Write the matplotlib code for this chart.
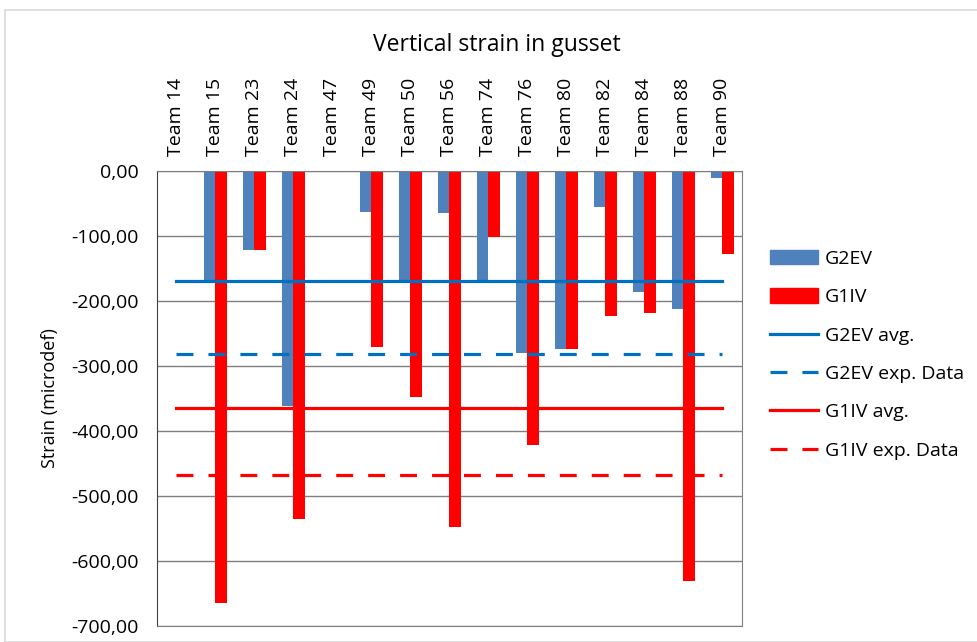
import matplotlib.pyplot as plt
import numpy as np
from matplotlib.lines import Line2D
from matplotlib.patches import Patch, Rectangle
from matplotlib.ticker import FuncFormatter

plt.rcParams['font.family'] = ['Open Sans', 'DejaVu Sans']

teams = ["Team 14", "Team 15", "Team 23", "Team 24", "Team 47", "Team 49", "Team 50",
         "Team 56", "Team 74", "Team 76", "Team 80", "Team 82", "Team 84", "Team 88", "Team 90"]
g2ev = [0, -168, -121, -361, 0, -63, -168, -64, -168, -280, -274, -55, -186, -213, -10]
g1iv = [0, -664, -121, -536, 0, -270, -347, -547, -102, -422, -274, -223, -219, -630, -128]
g2ev_avg = -169
g2ev_exp = -281
g1iv_avg = -364
g1iv_exp = -467

BLUE = "#4F81BD"
RED = "#FF0000"
LINE_BLUE = "#0070C0"
DASH = (0, (5.3, 4.7))

fig = plt.figure(figsize=(9.78, 6.42), dpi=100)
fig.patches.append(Rectangle((5 / 978, 0), 1, 632 / 642, transform=fig.transFigure,
                             fill=False, edgecolor="#D9D9D9", linewidth=1.2))
ax = fig.add_axes([157 / 978, 1 - 626 / 642, (742 - 157) / 978, (626 - 171) / 642])

x = np.arange(len(teams))
w = 0.3
ax.bar(x - w / 2, g2ev, width=w, color=BLUE, zorder=2)
ax.bar(x + w / 2, g1iv, width=w, color=RED, zorder=2)

lw = 2.3
ax.plot(x, [g2ev_avg] * len(x), color=LINE_BLUE, lw=lw, zorder=3)
ax.plot(x, [g2ev_exp] * len(x), color=LINE_BLUE, lw=lw, ls=DASH, zorder=3)
ax.plot(x, [g1iv_avg] * len(x), color=RED, lw=lw, zorder=3)
ax.plot(x, [g1iv_exp] * len(x), color=RED, lw=lw, ls=DASH, zorder=3)

ax.set_xlim(-0.5, len(teams) - 0.5)
ax.set_ylim(-700, 0)
ax.set_yticks(np.arange(-700, 1, 100))
ax.yaxis.set_major_formatter(FuncFormatter(lambda v, p: f"{v:.2f}".replace(".", ",")))
ax.grid(axis="y", color="#7F7F7F", lw=1, zorder=0)
ax.xaxis.tick_top()
ax.set_xticks(x)
ax.set_xticklabels(teams, rotation=90, fontsize=14)
ax.tick_params(axis="x", length=0, pad=11)
ax.tick_params(axis="y", length=0, labelsize=14, pad=13)
for s in ax.spines.values():
    s.set_color("#7F7F7F")
ax.spines["left"].set_color("#404040")
ax.set_ylabel("Strain (microdef)", fontsize=13, labelpad=9)

fig.text(497 / 978, 1 - 45 / 642, "Vertical strain in gusset",
         ha="center", va="center", fontsize=16.5)

handles = [
    Patch(color=BLUE, label="G2EV"),
    Patch(color=RED, label="G1IV"),
    Line2D([], [], color=LINE_BLUE, lw=lw, label="G2EV avg."),
    Line2D([], [], color=LINE_BLUE, lw=lw, ls=DASH, label="G2EV exp. Data"),
    Line2D([], [], color=RED, lw=lw, label="G1IV avg."),
    Line2D([], [], color=RED, lw=lw, ls=DASH, label="G1IV exp. Data"),
]
fig.legend(handles=handles, loc="upper left", bbox_to_anchor=(762 / 978, 1 - 242 / 642),
           frameon=False, fontsize=14, handlelength=2.5, handletextpad=0.35,
           labelspacing=1.05, handleheight=0.75, borderaxespad=0)

fig.savefig("out.png", dpi=100)
